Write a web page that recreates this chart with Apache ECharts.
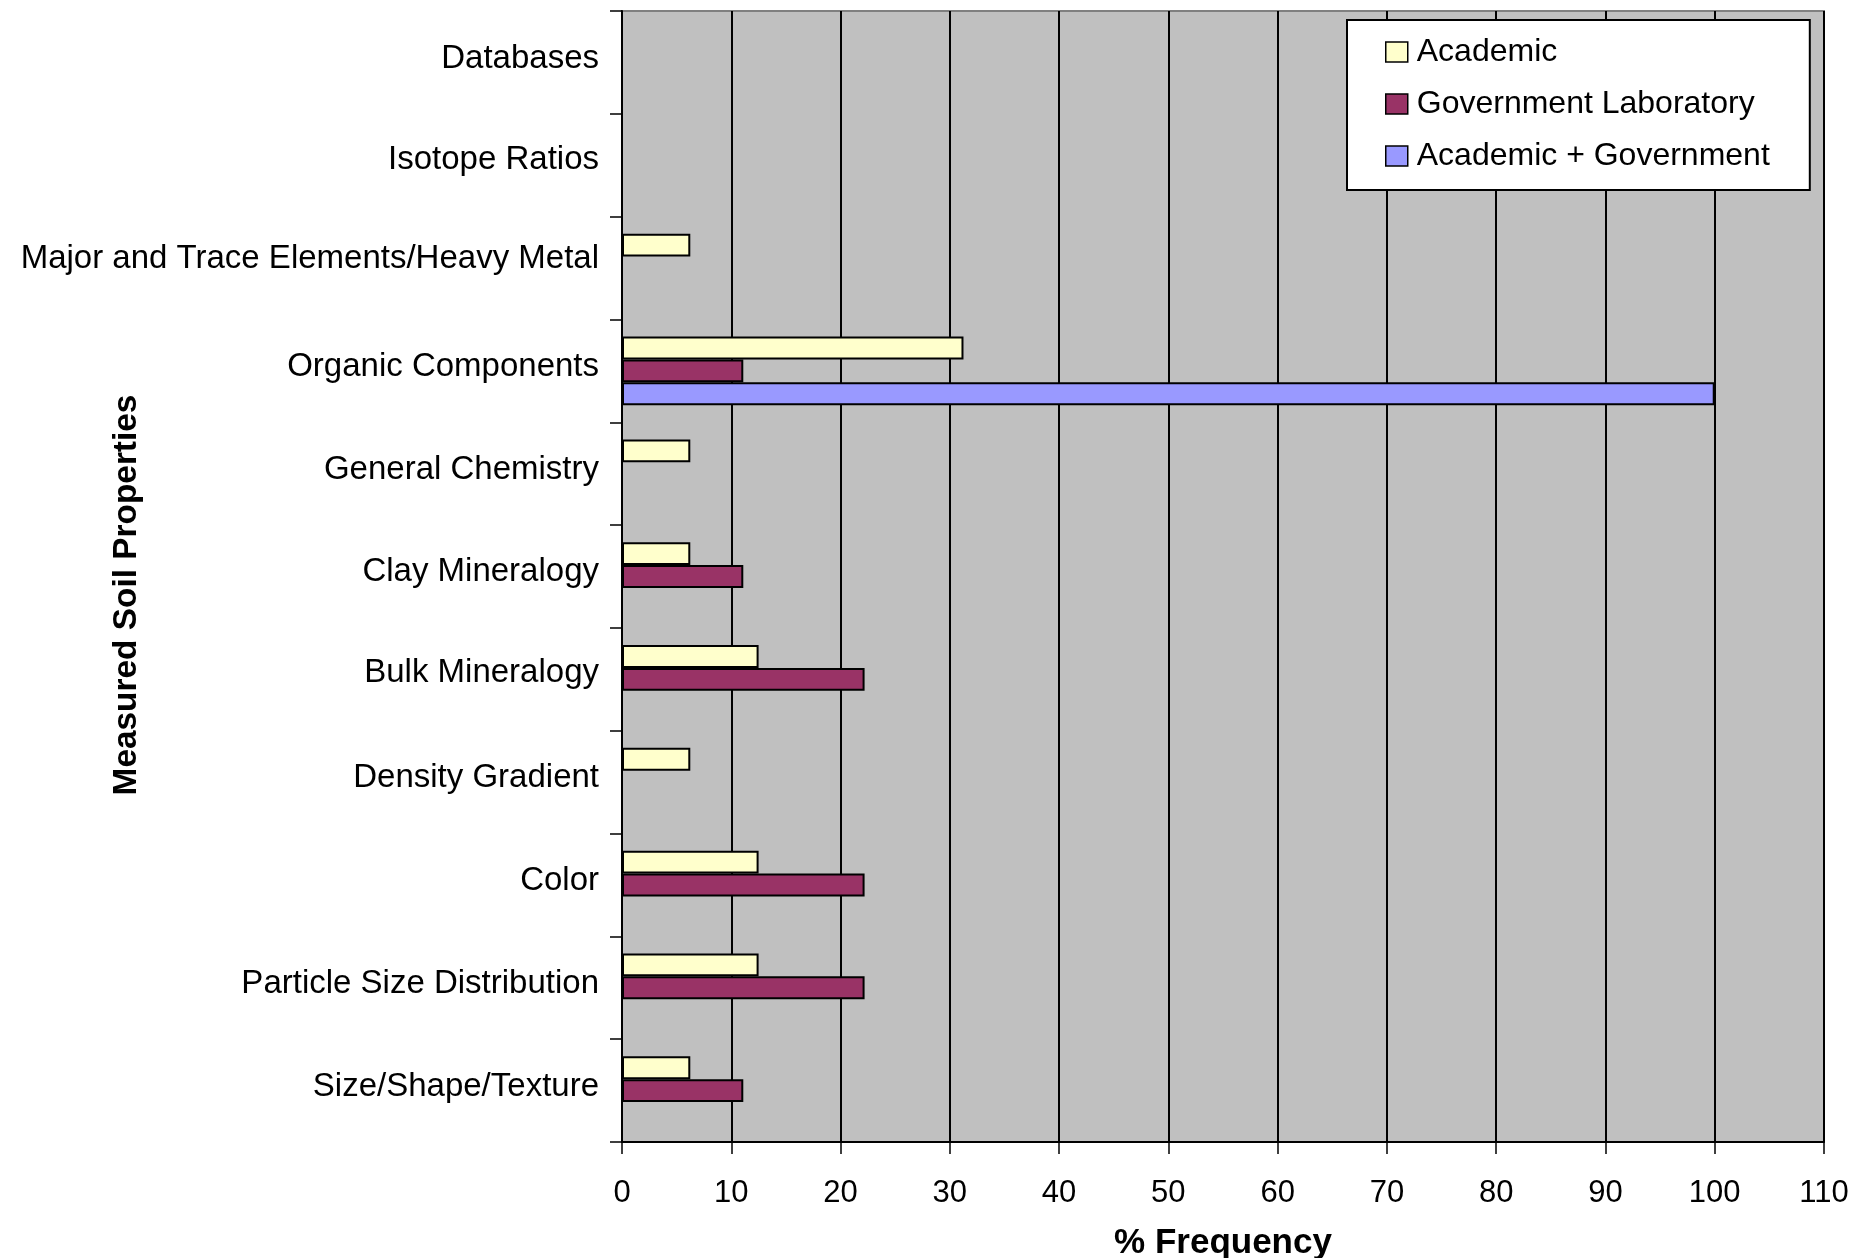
<!DOCTYPE html>
<html>
<head>
<meta charset="utf-8">
<script src="https://cdn.jsdelivr.net/npm/echarts@6/dist/echarts.min.js"></script>
<style>
  html, body { margin: 0; padding: 0; background: #ffffff; }
  #chart { width: 1853px; height: 1258px; }
</style>
</head>
<body>
<div id="chart"></div>
<script>
// Measured soil properties, listed top to bottom
const categories = [
  'Databases',
  'Isotope Ratios',
  'Major and Trace Elements/Heavy Metal',
  'Organic Components',
  'General Chemistry',
  'Clay Mineralogy',
  'Bulk Mineralogy',
  'Density Gradient',
  'Color',
  'Particle Size Distribution',
  'Size/Shape/Texture'
];

// % frequency per group (null = not reported)
const academic   = [null, null, 6.25, 31.25, 6.25, 6.25, 12.5, 6.25, 12.5, 12.5, 6.25];
const government = [null, null, null, 11.1, null, 11.1, 22.2, null, 22.2, 22.2, 11.1];
const combined   = [null, null, null, 100, null, null, null, null, null, null, null];

const seriesNames = ['Academic', 'Government Laboratory', 'Academic + Government'];
const seriesColors = ['#FFFFCC', '#993366', '#9999FF'];
const seriesData = [academic, government, combined];

const FONT = '"Liberation Sans", Arial, Helvetica, sans-serif';

// Labels are bottom-anchored on their tick; a taller line box lifts the text.
const labelLift = { 'Major and Trace Elements/Heavy Metal': 19, 'Isotope Ratios': 10, 'Clay Mineralogy': 10, 'Bulk Mineralogy': 12 };
const yAxisData = categories.map(c => ({
  value: c,
  textStyle: { lineHeight: labelLift[c] || 8, verticalAlign: 'bottom' }
}));

const chart = echarts.init(document.getElementById('chart'), null, { renderer: 'canvas' });

chart.setOption({
  backgroundColor: '#ffffff',
  animation: false,
  grid: {
    left: 622, right: 29, top: 11, bottom: 116,
    containLabel: false,
    outerBoundsMode: 'none',
    show: true,
    backgroundColor: '#C0C0C0',
    borderColor: '#808080',
    borderWidth: 2
  },
  legend: {
    orient: 'vertical',
    left: 1347,
    top: 20,
    data: seriesNames,
    backgroundColor: '#ffffff',
    borderColor: '#000000',
    borderWidth: 2,
    borderRadius: 0,
    padding: [16, 40, 18, 38],
    itemGap: 20,
    itemWidth: 22,
    itemHeight: 20,
    icon: 'rect',
    itemStyle: { borderColor: '#000000', borderWidth: 1.5 },
    textStyle: { fontFamily: FONT, fontSize: 32, color: '#000000', lineHeight: 32, padding: [0, 0, 0, 4] }
  },
  xAxis: {
    type: 'value',
    min: 0,
    max: 110,
    interval: 10,
    name: '% Frequency',
    nameLocation: 'middle',
    nameGap: 84,
    nameTextStyle: { fontFamily: FONT, fontSize: 35, fontWeight: 'bold', color: '#000000' },
    axisLine: { show: true, lineStyle: { color: '#000000', width: 2 } },
    axisTick: { show: true, length: 12, lineStyle: { color: '#000000', width: 1.5 } },
    axisLabel: { fontFamily: FONT, fontSize: 31, color: '#000000', margin: 36 },
    splitLine: { show: true, lineStyle: { color: '#000000', width: 2 } }
  },
  yAxis: {
    type: 'category',
    data: yAxisData,
    inverse: true,
    axisLine: { show: true, lineStyle: { color: '#000000', width: 2 } },
    axisTick: { show: true, length: 12, lineStyle: { color: '#000000', width: 1.5 } },
    axisLabel: {
      interval: 0,
      fontFamily: FONT, fontSize: 33, color: '#000000', margin: 23,
      lineHeight: 8, verticalAlign: 'bottom'
    },
    splitLine: { show: false }
  },
  graphic: [{
    type: 'text',
    x: 127,
    y: 595,
    rotation: Math.PI / 2,
    style: {
      text: 'Measured Soil Properties',
      fontFamily: FONT,
      fontSize: 33.4,
      fontWeight: 'bold',
      fill: '#000000',
      align: 'center',
      verticalAlign: 'middle'
    }
  }],
  series: seriesNames.map((name, i) => ({
    name: name,
    type: 'bar',
    data: seriesData[i],
    barGap: '0%',
    barCategoryGap: '33.3%',
    itemStyle: { color: seriesColors[i], borderColor: '#000000', borderWidth: 2 }
  }))
});
</script>
</body>
</html>
